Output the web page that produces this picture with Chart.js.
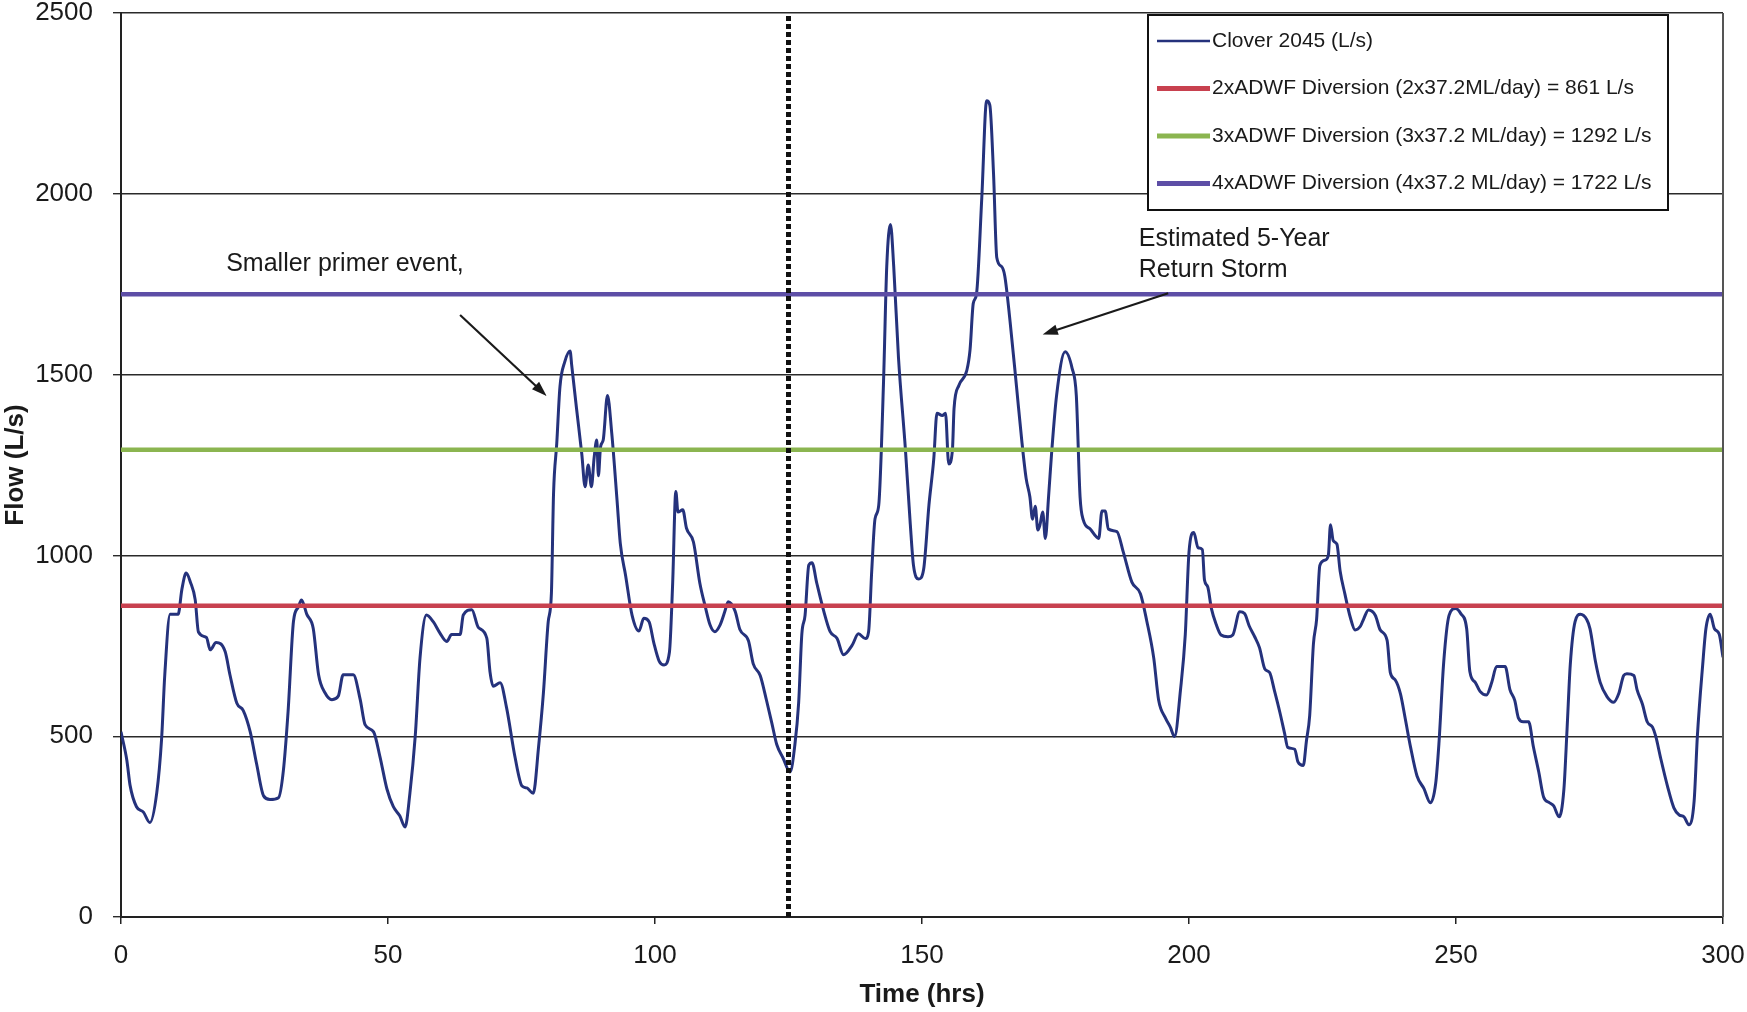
<!DOCTYPE html>
<html>
<head>
<meta charset="utf-8">
<script src="https://cdn.jsdelivr.net/npm/chart.js@4.4.1/dist/chart.umd.min.js"></script>
<style>
  body { margin: 0; background: #fff; }
  #wrap { width: 1747px; height: 1012px; }
</style>
</head>
<body>
<div id="wrap"><canvas id="flowChart" width="1747" height="1012"></canvas></div>
<script>
// Clover 2045 flow (time in hrs, flow in L/s)
var hours = [0, 1.1, 1.7, 2.9, 4.2, 5.4, 6.7, 7.6, 8.2, 9.2, 10.7, 11.4, 12.2, 13.0, 13.9, 14.5, 16.0, 16.7, 17.8, 19.5,
  20.4, 21.7, 22.9, 24.2, 25.4, 26.7, 27.9, 29.5, 30.4, 31.3, 32.3, 33.2, 33.8, 34.8, 36.0, 37.0, 38.2, 39.5, 40.7, 41.6,
  43.5, 44.8, 45.7, 47.3, 48.5, 49.8, 51.0, 52.2, 53.2, 54.1, 55.1, 56.0, 57.2, 58.5, 59.7, 61.0, 61.9, 63.5, 64.1, 65.7,
  66.9, 68.5, 69.1, 69.7, 71.0, 72.2, 73.8, 75.1, 76.0, 77.2, 78.2, 79.1, 80.0, 80.6, 81.0, 81.6, 82.2, 83.1, 84.1, 84.4,
  85.3, 86.3, 86.9, 87.5, 88.1, 88.6, 89.1, 89.4, 89.8, 90.3, 91.1, 91.9, 92.9, 93.5, 94.5, 95.7, 97.0, 97.9, 98.9, 99.8,
  100.8, 101.7, 102.7, 103.3, 103.9, 104.3, 105.2, 105.9, 107.2, 108.4, 109.4, 110.3, 111.2, 112.2, 113.1, 113.7, 115.0, 115.9, 117.5, 118.4,
  119.7, 120.9, 121.9, 122.8, 124.0, 125.3, 126.2, 126.9, 127.5, 128.1, 128.8, 129.4, 130.3, 131.6, 132.8, 134.1, 135.3, 136.9, 138.1, 139.4,
  140.0, 140.6, 141.2, 141.9, 142.8, 143.4, 144.1, 144.7, 145.6, 146.9, 147.8, 148.4, 149.4, 150.3, 151.3, 152.2, 152.8, 153.8, 154.4, 155.0,
  155.7, 156.0, 156.9, 158.4, 159.0, 159.6, 160.2, 161.2, 162.1, 162.7, 163.4, 164.0, 164.9, 165.5, 166.5, 167.7, 168.7, 169.5, 170.2, 170.7,
  171.2, 171.7, 172.1, 172.6, 173.1, 173.7, 174.3, 175.2, 176.8, 178.1, 178.9, 179.6, 180.2, 181.5, 183.1, 183.7, 184.3, 184.9, 186.5, 187.7,
  189.3, 190.9, 192.1, 193.4, 194.3, 195.6, 196.5, 197.3, 198.4, 199.3, 200.0, 200.9, 201.7, 202.5, 202.9, 203.5, 204.2, 205.1, 206.0, 207.3,
  208.2, 209.5, 210.4, 211.3, 212.3, 213.2, 214.2, 215.1, 216.0, 217.0, 217.9, 218.5, 219.8, 220.4, 221.4, 222.0, 222.6, 223.3, 223.9, 224.5,
  225.5, 226.1, 226.5, 227.0, 227.7, 228.3, 229.2, 230.2, 231.1, 232.1, 232.7, 233.6, 234.9, 235.8, 237.1, 237.7, 238.6, 239.6, 240.5, 241.5,
  242.7, 244.0, 245.2, 246.2, 246.8, 247.7, 248.7, 249.9, 250.9, 252.0, 252.6, 253.6, 254.5, 255.7, 256.7, 257.6, 259.2, 260.1, 261.0, 261.7,
  262.6, 263.6, 264.5, 265.5, 266.4, 267.4, 268.3, 269.3, 270.2, 270.8, 271.4, 272.3, 273.3, 274.5, 275.1, 276.1, 277.0, 278.3, 279.5, 280.5,
  281.4, 282.0, 283.3, 283.9, 284.9, 285.8, 286.8, 287.4, 288.3, 289.6, 290.8, 291.8, 292.7, 293.6, 294.6, 295.2, 296.2, 296.8, 297.6, 298.4,
  299.3, 300];
var flow = [512, 433, 364, 305, 290, 261, 344, 492, 670, 837, 837, 906, 951, 926, 877, 788, 773, 739, 759, 734,
  670, 591, 571, 512, 423, 335, 325, 330, 404, 571, 818, 857, 877, 837, 798, 670, 620, 601, 611, 670,
  670, 601, 532, 512, 443, 354, 305, 280, 249, 342, 500, 717, 835, 816, 786, 762, 781, 781, 835, 850,
  801, 771, 678, 638, 648, 579, 441, 362, 357, 342, 471, 619, 816, 895, 1171, 1309, 1466, 1535, 1565, 1526,
  1407, 1279, 1190, 1250, 1190, 1270, 1319, 1220, 1300, 1319, 1442, 1338, 1151, 1033, 944, 835, 791, 826, 816, 757,
  707, 697, 732, 920, 1177, 1120, 1126, 1075, 1037, 923, 859, 808, 789, 808, 846, 872, 846, 795, 764, 700,
  668, 598, 535, 477, 439, 401, 477, 592, 783, 834, 973, 980, 923, 846, 789, 770, 725, 751, 783, 770,
  789, 961, 1101, 1139, 1482, 1800, 1915, 1800, 1546, 1292, 1088, 973, 935, 961, 1139, 1266, 1393, 1387, 1393, 1253,
  1292, 1406, 1470, 1512, 1569, 1697, 1722, 1990, 2257, 2245, 2054, 1824, 1799, 1773, 1646, 1467, 1315, 1213, 1162, 1100,
  1136, 1070, 1085, 1120, 1047, 1162, 1289, 1442, 1563, 1518, 1442, 1162, 1098, 1073, 1047, 1123, 1123, 1073, 1066, 1009,
  926, 894, 818, 716, 601, 550, 525, 499, 627, 780, 1009, 1063, 1021, 1016, 932, 913, 853, 809, 780, 775,
  780, 844, 839, 804, 775, 745, 686, 676, 626, 567, 508, 469, 464, 429, 419, 488, 557, 755, 824, 972,
  987, 1001, 1085, 1041, 1031, 957, 893, 829, 794, 804, 824, 849, 834, 794, 765, 676, 656, 617, 548, 469,
  390, 355, 316, 370, 479, 705, 834, 853, 839, 797, 678, 649, 624, 614, 649, 693, 693, 629, 599, 550,
  540, 540, 470, 401, 332, 317, 307, 277, 352, 520, 698, 817, 837, 822, 797, 708, 649, 609, 594, 619,
  668, 673, 668, 629, 589, 540, 525, 500, 441, 362, 302, 282, 277, 255, 322, 500, 698, 797, 837, 797,
  782, 718];

// diversion thresholds (L/s)
var diversionNames = ['2xADWF Diversion (2x37.2ML/day) = 861 L/s',
                      '3xADWF Diversion (3x37.2 ML/day) = 1292 L/s',
                      '4xADWF Diversion (4x37.2 ML/day) = 1722 L/s'];
var diversionFlow = [861, 1292, 1722];
var diversionColors = ['#c8414f', '#8bb550', '#5d4ea6'];

var stormStart = 125;   // hrs, dotted marker
var xTicks = [0, 50, 100, 150, 200, 250, 300];
var yTicks = [0, 500, 1000, 1500, 2000, 2500];

var FONT = '"Liberation Sans", Arial, sans-serif';
var LINE_NAVY = '#25327c';

var cloverData = [];
for (var i = 0; i < hours.length; i++) {
  cloverData.push({x: hours[i], y: flow[i]});
}

var datasets = [];
// dotted marker on top
datasets.push({
  label: 'marker',
  data: [{x: stormStart, y: 0}, {x: stormStart, y: 2500}],
  borderColor: '#111',
  borderWidth: 5,
  borderDash: [5, 3],
  pointRadius: 0
});
for (var k = diversionFlow.length - 1; k >= 0; k--) {
  datasets.push({
    label: diversionNames[k],
    data: [{x: xTicks[0], y: diversionFlow[k]}, {x: xTicks[xTicks.length - 1], y: diversionFlow[k]}],
    borderColor: diversionColors[k],
    borderWidth: 4.5,
    pointRadius: 0
  });
}
datasets.push({
  label: 'Clover 2045 (L/s)',
  data: cloverData,
  borderColor: LINE_NAVY,
  borderWidth: 3,
  pointRadius: 0,
  cubicInterpolationMode: 'monotone'
});

// annotations, in data units
var notes = [
  {text: 'Smaller primer event,', x: 19.7, y: 1806},
  {text: 'Estimated 5-Year', x: 190.6, y: 1875},
  {text: 'Return Storm', x: 190.6, y: 1789}
];
var arrows = [
  {x1: 63.5, y1: 1665, x2: 79.7, y2: 1441},
  {x1: 196.1, y1: 1725, x2: 172.6, y2: 1611}
];

var extras = {
  id: 'extras',
  afterDatasetsDraw: function(chart) {
    var ctx = chart.ctx, xs = chart.scales.x, ys = chart.scales.y, a = chart.chartArea;
    ctx.save();
    // right border
    ctx.strokeStyle = '#555';
    ctx.lineWidth = 2;
    ctx.beginPath();
    ctx.moveTo(a.right, a.top);
    ctx.lineTo(a.right, a.bottom);
    ctx.stroke();

    // annotation text
    ctx.fillStyle = '#1a1a1a';
    ctx.font = '25px ' + FONT;
    ctx.textAlign = 'left';
    ctx.textBaseline = 'middle';
    notes.forEach(function(n) {
      ctx.fillText(n.text, xs.getPixelForValue(n.x), ys.getPixelForValue(n.y));
    });

    // arrows
    arrows.forEach(function(ar) {
      var x1 = xs.getPixelForValue(ar.x1), y1 = ys.getPixelForValue(ar.y1);
      var x2 = xs.getPixelForValue(ar.x2), y2 = ys.getPixelForValue(ar.y2);
      var ang = Math.atan2(y2 - y1, x2 - x1), head = 16;
      ctx.strokeStyle = '#1a1a1a';
      ctx.fillStyle = '#1a1a1a';
      ctx.lineWidth = 2.2;
      ctx.beginPath();
      ctx.moveTo(x1, y1);
      ctx.lineTo(x2 - Math.cos(ang) * head * 0.8, y2 - Math.sin(ang) * head * 0.8);
      ctx.stroke();
      ctx.beginPath();
      ctx.moveTo(x2, y2);
      ctx.lineTo(x2 - head * Math.cos(ang - 0.33), y2 - head * Math.sin(ang - 0.33));
      ctx.lineTo(x2 - head * Math.cos(ang + 0.33), y2 - head * Math.sin(ang + 0.33));
      ctx.closePath();
      ctx.fill();
    });

    // legend box
    var bx = a.right - 575, by = a.top + 2, bw = 520, bh = 195;
    ctx.fillStyle = '#fff';
    ctx.fillRect(bx, by, bw, bh);
    ctx.strokeStyle = '#111';
    ctx.lineWidth = 2;
    ctx.strokeRect(bx, by, bw, bh);
    var items = [{name: 'Clover 2045 (L/s)', color: LINE_NAVY, w: 2.4}];
    for (var j = 0; j < diversionNames.length; j++) {
      items.push({name: diversionNames[j], color: diversionColors[j], w: 5});
    }
    ctx.font = '21px ' + FONT;
    ctx.textBaseline = 'middle';
    items.forEach(function(it, idx) {
      var ly = by + 26 + idx * 47.5;
      ctx.strokeStyle = it.color;
      ctx.lineWidth = it.w;
      ctx.beginPath();
      ctx.moveTo(bx + 9, ly);
      ctx.lineTo(bx + 62, ly);
      ctx.stroke();
      ctx.fillStyle = '#1a1a1a';
      ctx.fillText(it.name, bx + 64, ly);
    });
    ctx.restore();
  }
};

new Chart(document.getElementById('flowChart'), {
  type: 'line',
  data: {datasets: datasets},
  options: {
    responsive: false,
    animation: false,
    layout: {padding: {top: 13, right: 24, bottom: 0, left: 0}},
    plugins: {legend: {display: false}, tooltip: {enabled: false}},
    scales: {
      x: {
        type: 'linear',
        min: 0,
        max: 300,
        afterBuildTicks: function(s) { s.ticks = xTicks.map(function(v) { return {value: v}; }); },
        afterFit: function(s) { s.height = 95; s.paddingLeft = 0; s.paddingRight = 0; },
        ticks: {font: {family: FONT, size: 26}, color: '#1a1a1a', padding: 16, maxRotation: 0,
                callback: function(v) { return String(v); }},
        grid: {drawOnChartArea: false, drawTicks: true, tickLength: 7, color: '#222', lineWidth: 1.5},
        border: {display: true, color: '#222', width: 2},
        title: {display: true, text: 'Time (hrs)', font: {family: FONT, size: 26, weight: 'bold'},
                color: '#1a1a1a', padding: {top: 0, bottom: 2}}
      },
      y: {
        min: 0,
        max: 2500,
        afterBuildTicks: function(s) { s.ticks = yTicks.map(function(v) { return {value: v}; }); },
        afterFit: function(s) { s.width = 121; s.paddingTop = 0; s.paddingBottom = 0; },
        ticks: {font: {family: FONT, size: 26}, color: '#1a1a1a', padding: 20,
                callback: function(v) { return String(v); }},
        grid: {color: '#2a2a2a', lineWidth: 1.4, tickLength: 8},
        border: {display: true, color: '#222', width: 2},
        title: {display: true, text: 'Flow (L/s)', font: {family: FONT, size: 26, weight: 'bold'},
                color: '#1a1a1a', padding: 0}
      }
    }
  },
  plugins: [extras]
});
</script>
</body>
</html>
